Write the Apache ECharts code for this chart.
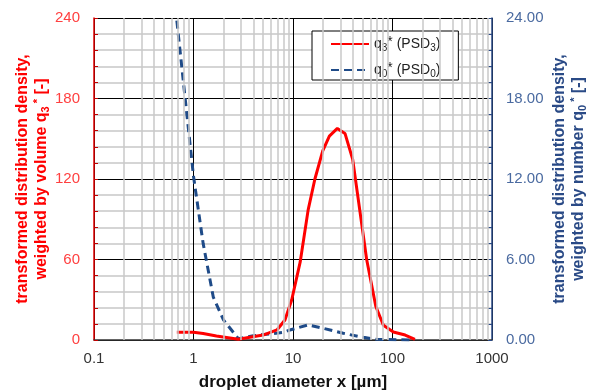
<!DOCTYPE html>
<html>
<head>
<meta charset="utf-8">
<script src="https://cdn.jsdelivr.net/npm/echarts@6/dist/echarts.min.js"></script>
<style>html,body{margin:0;padding:0;background:#fff}#c{width:592px;height:392px}</style>
</head>
<body>
<div id="c"></div>
<script>
// droplet diameters [µm] and densities
const diamQ3 = [0.68, 1.0, 1.25, 1.7, 2.82, 5.0, 6.9, 8.3, 9.7, 11.8, 14.2, 16.6, 19.9, 23.2, 27.9, 33.3, 39.8, 55, 68, 81, 102, 134, 168];
const q3Vals = [5.7, 5.7, 4.8, 3.0, 0.5, 3.7, 7.5, 14.9, 29.8, 58, 97, 120, 141, 152, 157.7, 154, 134.6, 60, 25, 11, 6, 3.7, 0.5];
const diamQ0 = [0.68, 1.0, 1.25, 1.58, 2.0, 2.82, 4.0, 8.0, 9.3, 14.2, 20.2, 32, 51, 69, 162];
const q0Vals = [23.8, 12.2, 7.2, 3.2, 1.5, 0.1, 0.32, 0.57, 0.75, 1.12, 0.87, 0.5, 0.2, 0.05, 0.0];
const xTickLabels = ['0.1', '1', '10', '100', '1000'];
const seriesNames = ['q3', 'q0'];

const FONT = '"Liberation Sans", Arial, sans-serif';
const decades = [0.1, 1, 10, 100];
const minorX = [];
decades.forEach(d => { for (let k = 2; k <= 9; k++) minorX.push(+(d * k).toPrecision(6)); });

const chart = echarts.init(document.getElementById('c'), null, {renderer: 'canvas'});
const nameRich = (color) => ({
  n: {fontSize: 16, fontWeight: 'bold', color: color, fontFamily: FONT, lineHeight: 19},
  sub: {fontSize: 11, fontWeight: 'bold', color: color, fontFamily: FONT, verticalAlign: 'bottom', lineHeight: 19},
  sup: {fontSize: 11, fontWeight: 'bold', color: color, fontFamily: FONT, verticalAlign: 'top', lineHeight: 19}
});

chart.setOption({
  animation: false,
  backgroundColor: '#fff',
  textStyle: {fontFamily: FONT},
  grid: {left: 94, right: 100, top: 18, bottom: 52, containLabel: false, outerBoundsMode: 'none'},
  legend: {
    data: seriesNames,
    orient: 'vertical',
    left: 312, top: 31,
    padding: [4, 4, 1, 18],
    itemGap: 8,
    itemWidth: 38, itemHeight: 14,
    itemStyle: {opacity: 0},
    backgroundColor: '#fff',
    borderColor: '#000', borderWidth: 1,
    formatter: n => n === 'q3' ? '{t|q}{s|3}{p|*}{t| (PSD}{s|3}{t|)}{w| }' : '{t|q}{s|0}{p|*}{t| (PSD}{s|0}{t|)}{w| }',
    textStyle: {
      rich: {
        t: {fontSize: 14, color: '#222', fontFamily: FONT, lineHeight: 18},
        s: {fontSize: 10, color: '#222', fontFamily: FONT, verticalAlign: 'bottom', lineHeight: 18},
        p: {fontSize: 14, color: '#222', fontFamily: FONT, verticalAlign: 'top', lineHeight: 18},
        w: {fontSize: 14, width: 14, lineHeight: 18}
      }
    }
  },
  xAxis: {
    type: 'log', logBase: 10, min: 0.1, max: 1000,
    name: 'droplet diameter x [µm]', nameLocation: 'middle', nameGap: 34,
    nameTextStyle: {fontSize: 17, fontWeight: 'bold', color: '#111', fontFamily: FONT},
    axisLine: {show: true, lineStyle: {color: '#333', width: 1.5}},
    axisTick: {show: false},
    axisLabel: {fontSize: 15, color: '#333', margin: 11,
      formatter: v => { const s = String(+(+v).toPrecision(6)); return xTickLabels.includes(s) ? s : ''; }},
    splitLine: {show: true, lineStyle: {color: '#000', width: 1}}
  },
  yAxis: [{
    type: 'value', min: 0, max: 240, interval: 60, position: 'left',
    name: '{n|transformed distribution density,}\n{n|weighted by volume q}{sub|3}{sup| *}{n| [-]}',
    nameLocation: 'middle', nameRotate: 90, nameGap: 43, nameMoveOverlap: false,
    nameTextStyle: {rich: nameRich('#ff0000'), align: 'center'},
    axisLine: {show: true, lineStyle: {color: '#e00000', width: 1.5}},
    axisTick: {show: true, inside: true, length: 4, lineStyle: {color: '#c00000'}},
    minorTick: {show: true, splitNumber: 5, length: 4, lineStyle: {color: '#c00000'}},
    axisLabel: {fontSize: 15, color: '#ff4040', margin: 14},
    splitLine: {show: true, lineStyle: {color: '#000', width: 1}},
    minorSplitLine: {show: true, lineStyle: {color: '#c8c8c8', width: 1.5}}
  }, {
    type: 'value', min: 0, max: 24, interval: 6, position: 'right',
    name: '{n|transformed distribution density,}\n{n|weighted by number q}{sub|0}{sup| *}{n| [-]}',
    nameLocation: 'middle', nameRotate: 90, nameGap: 58, nameMoveOverlap: false,
    nameTextStyle: {rich: nameRich('#2a4a86'), align: 'center'},
    axisLine: {show: true, lineStyle: {color: '#2a4a86', width: 1.5}},
    axisTick: {show: true, inside: true, length: 4, lineStyle: {color: '#2a4a86'}},
    minorTick: {show: true, splitNumber: 5, length: 4, lineStyle: {color: '#2a4a86'}},
    axisLabel: {fontSize: 15, color: '#4a6aa0', margin: 14, formatter: v => v.toFixed(2)},
    splitLine: {show: false}
  }],
  series: [{
    name: 'minor', type: 'line', data: [], z: 1, silent: true,
    markLine: {
      silent: true, symbol: 'none', label: {show: false},
      lineStyle: {color: '#c8c8c8', type: 'solid', width: 1.5},
      data: minorX.map(v => ({xAxis: v}))
    }
  }, {
    name: 'q3', type: 'line', yAxisIndex: 0, z: 4,
    data: diamQ3.map((d, i) => [d, q3Vals[i]]),
    symbol: 'none', smooth: false,
    lineStyle: {color: '#ff0000', width: 3},
    itemStyle: {color: '#ff0000'}
  }, {
    name: 'q0', type: 'line', yAxisIndex: 1, z: 3,
    data: diamQ0.map((d, i) => [d, q0Vals[i]]),
    symbol: 'none', smooth: false,
    lineStyle: {color: '#1f4b88', width: 3, type: [8, 5]},
    itemStyle: {color: '#1f4b88'}
  }]
});
</script>
</body>
</html>
